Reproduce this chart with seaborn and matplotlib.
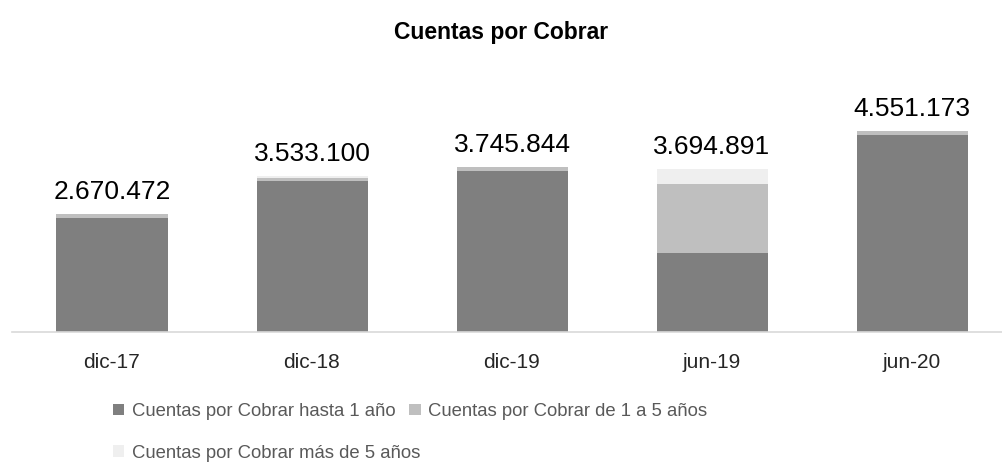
import matplotlib
matplotlib.use("Agg")
import matplotlib.pyplot as plt
import seaborn as sns
import pandas as pd
import numpy as np

categories = ["dic-17", "dic-18", "dic-19", "jun-19", "jun-20"]
hasta_1 = [2580000, 3408100, 3655000, 1790000, 4451173]
de_1_a_5 = [90472, 80000, 90844, 1555000, 100000]
mas_de_5 = [0, 45000, 0, 349891, 0]
totals = [2670472, 3533100, 3745844, 3694891, 4551173]

series_names = ["Cuentas por Cobrar hasta 1 año",
                "Cuentas por Cobrar de 1 a 5 años",
                "Cuentas por Cobrar más de 5 años"]
colors = ["#7f7f7f", "#bfbfbf", "#efefef"]

sns.set_theme(style="white")
plt.rcParams["font.family"] = ["Liberation Sans", "DejaVu Sans"]

c1 = np.array(hasta_1)
c2 = c1 + np.array(de_1_a_5)
c3 = c2 + np.array(mas_de_5)
df = pd.DataFrame({"cat": categories, "c1": c1, "c2": c2, "c3": c3})

fig = plt.figure(figsize=(10.02, 4.66), dpi=100)
ax = fig.add_axes([12/1002, 134/466, 1000/1002, 0.474])

w = 0.555
for col, colr, name in [("c3", colors[2], series_names[2]),
                        ("c2", colors[1], series_names[1]),
                        ("c1", colors[0], series_names[0])]:
    sns.barplot(data=df, x="cat", y=col, color=colr, saturation=1, width=w,
                ax=ax, label=name, linewidth=0, edgecolor="none")

if ax.get_legend() is not None:
    ax.get_legend().remove()

ax.set_ylim(0, 5.0e6)
ax.set_xlim(-0.5, 4.5)
ax.set_xlabel("")
ax.set_ylabel("")
ax.set_yticks([])
for s in ["top", "right", "left"]:
    ax.spines[s].set_visible(False)
ax.spines["bottom"].set_color("#d9d9d9")
ax.spines["bottom"].set_linewidth(1.2)
ax.tick_params(axis="x", length=0, pad=15, labelsize=15, labelcolor="#262626")

for i, t in enumerate(totals):
    ax.annotate(f"{t:,}".replace(",", "."), xy=(i, t), xytext=(0, 7),
                textcoords="offset points", ha="center", va="bottom",
                fontsize=19, color="#000000")

fig.text(0.5, 1 - 33/466, "Cuentas por Cobrar", ha="center", va="center",
         fontsize=16.5, fontweight="bold", color="#000000")

handles, labels = ax.get_legend_handles_labels()
hmap = dict(zip(labels, handles))
order = [series_names[0], series_names[2], series_names[1]]
leg = fig.legend([hmap[n] for n in order], order, ncol=2,
                 loc="upper left", bbox_to_anchor=(113/1002, 1 - 403/466),
                 frameon=False, fontsize=13.3, handlelength=0.62, handleheight=0.62,
                 handletextpad=0.4, columnspacing=-0.6, labelspacing=1.35,
                 borderpad=0, borderaxespad=0)
for t in leg.get_texts():
    t.set_color("#595959")

fig.savefig("out.png", dpi=100)
